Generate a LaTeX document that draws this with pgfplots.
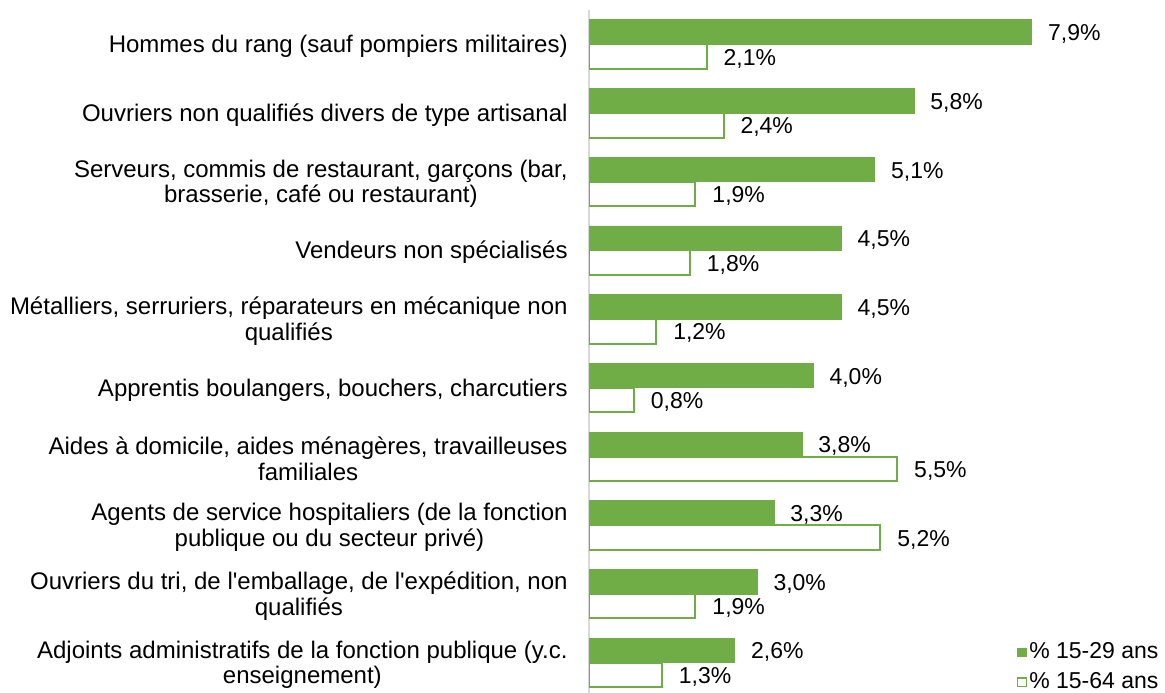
\documentclass[border=0pt]{standalone}
\usepackage{fontspec}
\setmainfont{Liberation Sans}[Ligatures=TeXOff]
\usepackage{pgfplots}
\pgfplotsset{compat=1.18}
\definecolor{bargreen}{HTML}{70AD47}
\definecolor{axgray}{HTML}{D9D9D9}
\begin{document}
\begin{tikzpicture}[font=\fontsize{11.5}{12.85}\selectfont]
\useasboundingbox (0,0) rectangle (582.5pt,346pt);
\clip (0,0) rectangle (582.5pt,346pt);
\begin{axis}[
  at={(294.5pt,-2.5pt)}, anchor=south west,
  scale only axis, width=280.2pt, height=343.5pt,
  xbar, bar width=12.25pt,
  xmin=0, xmax=10, ymin=-0.5, ymax=9.5,
  axis x line=none,
  axis y line*=left,
  y axis line style={draw=axgray, line width=0.75pt, -},
  ytick={0,...,9},
  yticklabels={
    {Adjoints administratifs de la fonction publique (y.c.\\enseignement)},
    {Ouvriers du tri, de l'emballage, de l'expédition, non\\qualifiés},
    {Agents de service hospitaliers (de la fonction\\publique ou du secteur privé)},
    {Aides à domicile, aides ménagères, travailleuses\\familiales},
    {Apprentis boulangers, bouchers, charcutiers},
    {Métalliers, serruriers, réparateurs en mécanique non\\qualifiés},
    {Vendeurs non spécialisés},
    {Serveurs, commis de restaurant, garçons (bar,\\brasserie, café ou restaurant)},
    {Ouvriers non qualifiés divers de type artisanal},
    {Hommes du rang (sauf pompiers militaires)}},
  major tick length=0pt,
  yticklabel style={align=center, anchor=east, inner sep=0pt, xshift=-10.5pt, yshift=-1pt,
    font=\fontsize{12}{12.85}\selectfont},
  point meta=x,
  /pgf/number format/assume math mode=true,
  nodes near coords={\pgfmathprintnumber[fixed,fixed zerofill,precision=1,use comma]{\pgfplotspointmeta}\%},
  nodes near coords style={anchor=west, inner sep=0pt, xshift=8pt, yshift=-1pt, text=black},
  legend style={at={(0.7635,0.083)}, anchor=north west, draw=none, fill=none,
    inner sep=0pt, row sep=3pt, nodes={inner sep=1.2pt, text=black}, font=\fontsize{11.5}{12.85}\selectfont},
  legend cell align=left,
]
\addplot[fill=bargreen, draw=bargreen, bar shift=6.125pt,
  legend image code/.code={\draw[fill=bargreen,draw=bargreen] (0pt,-2.1pt) rectangle (4.2pt,2.1pt);}]
  coordinates {(7.9,9) (5.8,8) (5.1,7) (4.5,6) (4.5,5) (4.0,4) (3.8,3) (3.3,2) (3.0,1) (2.6,0)};
\addplot[fill=white, draw=bargreen, line width=1pt, bar shift=-6.125pt,
  legend image code/.code={\draw[fill=white,draw=bargreen,line width=0.6pt] (0pt,-2.1pt) rectangle (4.2pt,2.1pt);}]
  coordinates {(2.1,9) (2.4,8) (1.9,7) (1.8,6) (1.2,5) (0.8,4) (5.5,3) (5.2,2) (1.9,1) (1.3,0)};
\legend{\% 15-29 ans, \% 15-64 ans}
\end{axis}
\end{tikzpicture}
\end{document}
